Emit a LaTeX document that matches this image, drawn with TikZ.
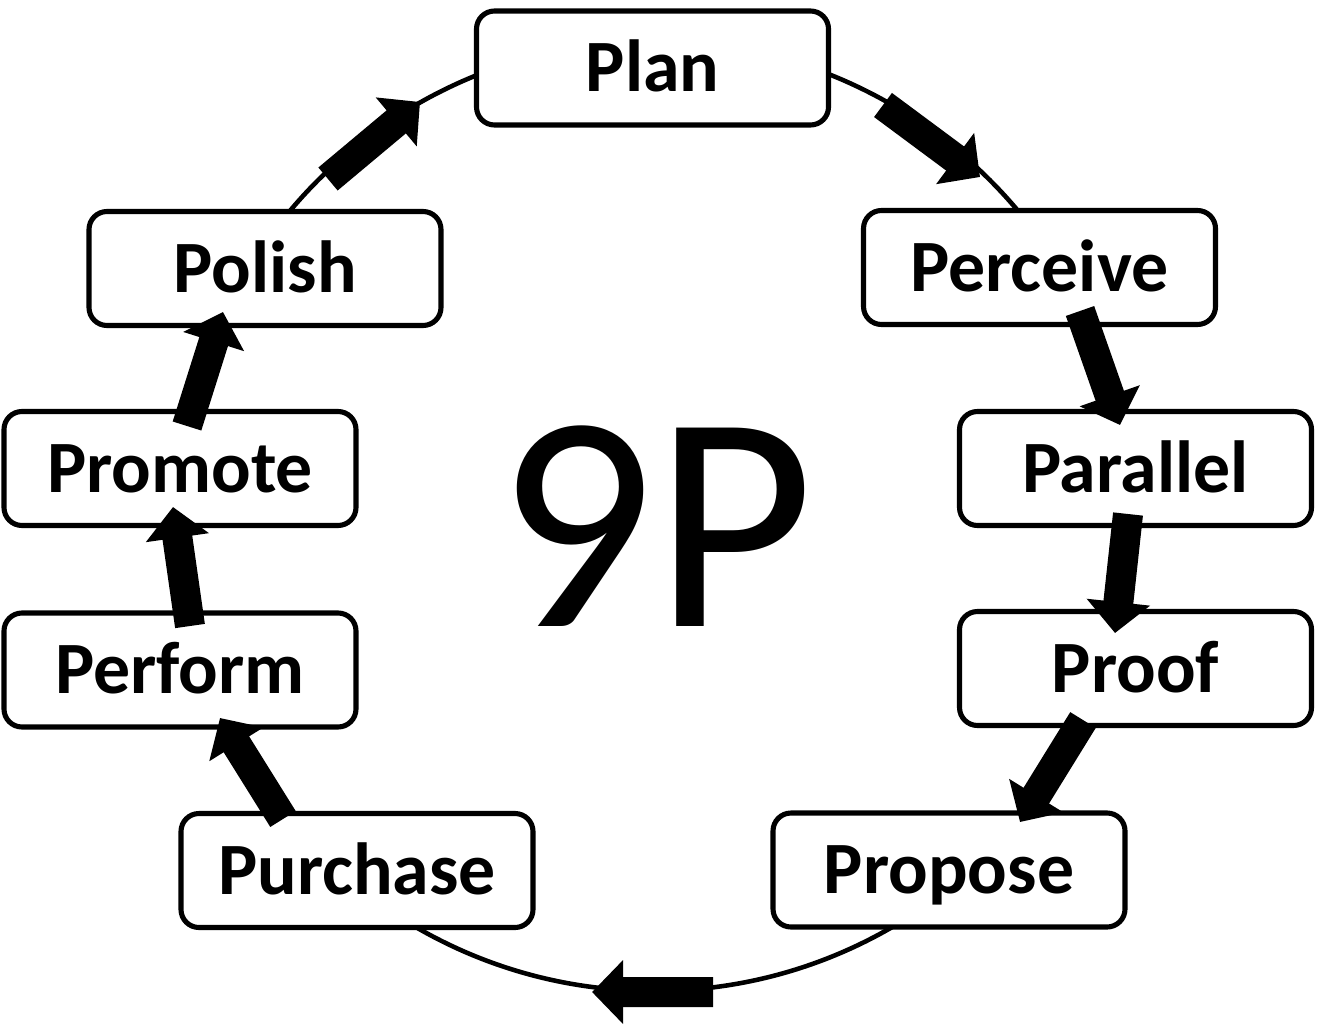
\documentclass[tikz,border=0pt]{standalone}
\usepackage{fontspec}
\setmainfont{Carlito}
\usepackage{tikz}
\usetikzlibrary{arrows.meta}

\begin{document}
\begin{tikzpicture}[
		stage/.style={draw=black,fill=white,line width=1.45pt,rounded corners=0.18cm,
			minimum width=3.52cm,minimum height=1.14cm,text height=0.47cm,text depth=0cm,
			font=\bfseries\fontsize{21}{24}\selectfont},
		flow/.style={line width=0.30cm,-{Triangle[width=0.62cm,length=0.31cm]}}
	]
	\useasboundingbox (0,0) rectangle (13.17,10.24);
	
	% the ring behind the boxes
	\coordinate (hub) at (6.54,5.08);
	\draw[line width=1.3pt] (hub) circle (4.75cm);
	
	% the nine stages, clockwise from the top
	\node[stage] (plan)     at (6.525,9.56)  {Plan};
	\node[stage] (perceive) at (10.395,7.565) {Perceive};
	\node[stage] (parallel) at (11.355,5.555) {Parallel};
	\node[stage] (proof)    at (11.355,3.555) {Proof};
	\node[stage] (propose)  at (9.49,1.54)   {Propose};
	\node[stage] (purchase) at (3.57,1.535)  {Purchase};
	\node[stage] (perform)  at (1.80,3.54)   {Perform};
	\node[stage] (promote)  at (1.80,5.555)  {Promote};
	\node[stage] (polish)   at (2.65,7.555)  {Polish};
	
	\node[font=\fontsize{88}{88}\selectfont] (title) at (6.56,4.98) {9P};
	
	% block arrows, drawn over the box borders
	\draw[flow] ([shift={(2.305,-0.37)}]plan.center)     -- ([shift={(-0.595,0.905)}]perceive.center);
	\draw[flow] ([shift={(0.405,-0.435)}]perceive.center) -- ([shift={(-0.155,0.435)}]parallel.center);
	\draw[flow] ([shift={(-0.075,-0.455)}]parallel.center) -- ([shift={(-0.205,0.355)}]proof.center);
	\draw[flow] ([shift={(-0.525,-0.515)}]proof.center)   -- ([shift={(0.71,0.48)}]propose.center);
	\draw[flow] ([shift={(-2.36,-1.22)}]propose.center)   -- ([shift={(2.35,-1.215)}]purchase.center);
	\draw[flow] ([shift={(-0.74,0.515)}]purchase.center)  -- ([shift={(0.40,-0.48)}]perform.center);
	\draw[flow] ([shift={(0.10,0.44)}]perform.center)     -- ([shift={(-0.07,-0.385)}]promote.center);
	\draw[flow] ([shift={(0.07,0.425)}]promote.center)    -- ([shift={(-0.42,-0.435)}]polish.center);
	\draw[flow] ([shift={(0.63,0.895)}]polish.center)     -- ([shift={(-2.325,-0.34)}]plan.center);
\end{tikzpicture}
\end{document}
